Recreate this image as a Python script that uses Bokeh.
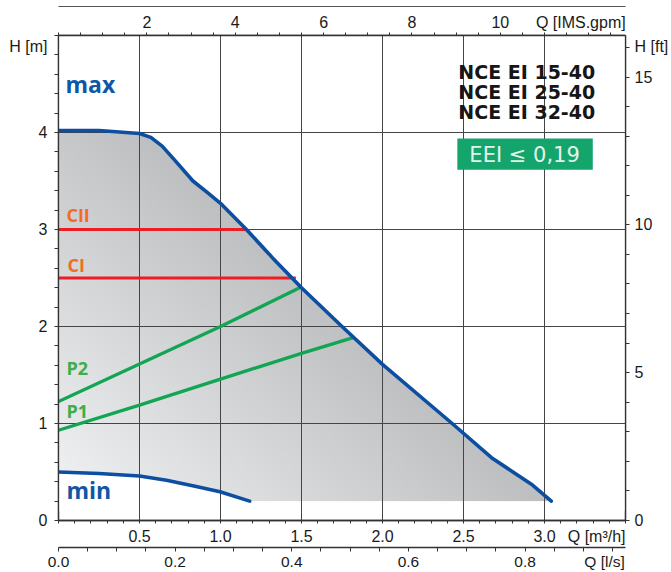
import numpy as np
from bokeh.plotting import figure
from bokeh.models import (Range1d, LinearAxis, FixedTicker, Grid, Label,
                          NumeralTickFormatter)
from bokeh.embed import file_html
from bokeh.resources import INLINE

# ---------------- data ----------------
# flow Q in m3/h, head H in m
q_max = [0.0, 0.25, 0.50, 0.57, 0.64, 0.72, 0.83, 0.92, 1.0, 1.16,
         1.32, 1.50, 1.75, 2.0, 2.43, 2.673, 2.796, 2.919, 3.042]
h_max = [4.02, 4.02, 3.99, 3.95, 3.86, 3.71, 3.50, 3.38, 3.27, 3.0,
         2.71, 2.40, 2.0, 1.61, 1.0, 0.648, 0.511, 0.374, 0.2]

q_min = [0.0, 0.25, 0.5, 0.667, 0.85, 0.997, 1.18]
h_min = [0.50, 0.485, 0.458, 0.414, 0.35, 0.296, 0.20]

q_p2 = [0.0, 0.5, 1.0, 1.495]
h_p2 = [1.227, 1.613, 2.0, 2.405]

q_p1 = [0.0, 0.5, 1.0, 1.5, 1.824]
h_p1 = [0.93, 1.19, 1.458, 1.723, 1.888]

q_c2 = [0.0, 1.16]
h_c2 = [3.0, 3.0]
q_c1 = [0.0, 1.465]
h_c1 = [2.5, 2.5]

# axis ticks
h_ticks = [0, 1, 2, 3, 4]
h_minor = [round(0.2 * i, 2) for i in range(26)]
ft_ticks = [0, 5, 10, 15]
ft_minor = list(range(0, 17))
q_ticks = [0.5, 1.0, 1.5, 2.0, 2.5, 3.0]
q_minor = [round(0.1 * i, 2) for i in range(36)]
gpm_ticks = [2, 4, 6, 8, 10]
gpm_minor = [0.5 * i for i in range(26)]
ls_ticks = [0.0, 0.2, 0.4, 0.6, 0.8]
ls_minor = [round(0.05 * i, 3) for i in range(20)]
grid_h = [1, 2, 3, 4]

models = ["NCE EI 15-40", "NCE EI 25-40", "NCE EI 32-40"]
eei_text = "EEI \u2264 0,19"

# axis titles, placed at the end of each scale
title_h_m, title_h_ft = "H [m]", "H [ft]"
title_gpm, title_m3h, title_ls = "Q [IMS.gpm]", "Q [m\u00b3/h]", "Q [l/s]"

Q_MAX, H_MAX = 3.5, 5.0
M3H_TO_GPM = 3.6662
M_TO_FT = 3.28084
M3H_TO_LS = 1 / 3.6

# positions of the axis titles (in each axis' own units)
POS_H_TITLE = 4.886
POS_FT_TITLE = round(POS_H_TITLE * M_TO_FT, 3)
POS_GPM_TITLE = 11.82
POS_M3H_TITLE = 3.322
POS_LS_TITLE = 0.9364

# ---------------- figure ----------------
p = figure(width=671, height=572, x_range=Range1d(0, Q_MAX), y_range=Range1d(0, H_MAX),
           x_axis_location=None, y_axis_location=None, toolbar_location=None,
           output_backend="svg", min_border_left=58, min_border_right=43,
           min_border_top=35, min_border_bottom=52,
           background_fill_color="white", border_fill_color="white")
p.outline_line_color = "#333333"
p.outline_line_width = 1.3
p.center = []

p.extra_x_ranges = {"gpm": Range1d(0, Q_MAX * M3H_TO_GPM),
                    "ls": Range1d(0, Q_MAX * M3H_TO_LS)}
p.extra_y_ranges = {"ft": Range1d(0, H_MAX * M_TO_FT)}

FONT = "Liberation Sans"
TXT = "#1a1a1a"


def style(ax, tick_out, standoff, size="16px"):
    ax.axis_line_color = "#333333"
    ax.axis_line_width = 1.3
    ax.major_tick_line_color = None
    ax.minor_tick_line_color = "#333333"
    ax.major_tick_in = 0
    ax.minor_tick_in = 0
    ax.major_tick_out = 0
    ax.minor_tick_out = tick_out
    ax.major_label_standoff = standoff
    ax.major_label_text_font = FONT
    ax.major_label_text_font_size = size
    ax.major_label_text_color = TXT


# left axis (m)
ax_l = LinearAxis(ticker=FixedTicker(ticks=h_ticks + [POS_H_TITLE], minor_ticks=h_minor),
                  major_label_overrides={POS_H_TITLE: title_h_m})
style(ax_l, 4, 7)
p.add_layout(ax_l, "left")

# right axis (ft)
ax_r = LinearAxis(y_range_name="ft",
                  ticker=FixedTicker(ticks=ft_ticks + [POS_FT_TITLE], minor_ticks=ft_minor),
                  major_label_overrides={POS_FT_TITLE: title_h_ft})
style(ax_r, 4, 5)
p.add_layout(ax_r, "right")

# top axis (IMS gpm)
ax_t = LinearAxis(x_range_name="gpm",
                  ticker=FixedTicker(ticks=gpm_ticks + [POS_GPM_TITLE], minor_ticks=gpm_minor),
                  major_label_overrides={POS_GPM_TITLE: title_gpm})
style(ax_t, 3, 2)
ax_t.axis_label = " "
ax_t.axis_label_text_font_size = "1px"
ax_t.axis_label_standoff = 0
p.add_layout(ax_t, "above")

ax_t2 = LinearAxis(x_range_name="gpm", ticker=FixedTicker(ticks=[]))
style(ax_t2, 0, 0)
ax_t2.axis_line_color = "#555555"
ax_t2.axis_line_width = 1
ax_t2.major_label_text_font_size = "0px"
p.add_layout(ax_t2, "above")

# bottom axis (m3/h)
ax_b = LinearAxis(ticker=FixedTicker(ticks=q_ticks + [POS_M3H_TITLE], minor_ticks=q_minor),
                  formatter=NumeralTickFormatter(format="0.0"),
                  major_label_overrides={POS_M3H_TITLE: title_m3h})
style(ax_b, 3, 4)
p.add_layout(ax_b, "below")

# bottom axis (l/s)
ax_b2 = LinearAxis(x_range_name="ls",
                   ticker=FixedTicker(ticks=ls_ticks + [POS_LS_TITLE], minor_ticks=ls_minor),
                   formatter=NumeralTickFormatter(format="0.0"),
                   major_label_overrides={POS_LS_TITLE: title_ls})
style(ax_b2, 4, 1, "15.5px")
p.add_layout(ax_b2, "below")

# grids
p.add_layout(Grid(dimension=0, ticker=FixedTicker(ticks=q_ticks),
                  grid_line_color="#454545", grid_line_width=1))
p.add_layout(Grid(dimension=1, ticker=FixedTicker(ticks=grid_h),
                  grid_line_color="#454545", grid_line_width=1))

# ---------------- gradient field between min and max curves ----------------
x0, x1 = 0.0, max(q_max) + 0.02
y0, y1 = min(h_max), max(h_max) + 0.04
nx, ny = 220, 260
gx = np.linspace(x0, x1, nx)
gy = np.linspace(y0, y1, ny)
GX, GY = np.meshgrid(gx, gy)
px = GX * 162.86
py = GY * 96.9
L = 238 - 0.105 * px - 0.115 * (py - 49.5)
L = np.clip(L, 182, 244)
img = np.empty((ny, nx), dtype=np.uint32)
view = img.view(dtype=np.uint8).reshape((ny, nx, 4))
view[:, :, 0] = L.astype(np.uint8)
view[:, :, 1] = np.clip(L + 1, 0, 255).astype(np.uint8)
view[:, :, 2] = np.clip(L + 3, 0, 255).astype(np.uint8)
view[:, :, 3] = 255
p.image_rgba(image=[img], x=x0, y=y0, dw=x1 - x0, dh=y1 - y0, level="image")

# white masks outside the operating field
mask_top_x = q_max + [Q_MAX, Q_MAX, -0.1, -0.1]
mask_top_y = h_max + [0.1, H_MAX, H_MAX, h_max[0]]
p.patch(mask_top_x, mask_top_y, fill_color="white", line_color="white", line_width=1, level="image")
mask_bot_x = q_min + [q_min[-1] + 0.1, -0.1, -0.1]
mask_bot_y = h_min + [0.1, 0.1, h_min[0]]
p.patch(mask_bot_x, mask_bot_y, fill_color="white", line_color="white", line_width=1, level="image")

# ---------------- curves ----------------
BLUE = "#0b4ea2"
RED = "#ee1d25"
GREEN = "#12a553"
p.line(q_c2, h_c2, line_color=RED, line_width=3)
p.line(q_c1, h_c1, line_color=RED, line_width=3)
p.line(q_p2, h_p2, line_color=GREEN, line_width=3.3)
p.line(q_p1, h_p1, line_color=GREEN, line_width=3.3)
p.line(q_max, h_max, line_color=BLUE, line_width=3.6, line_join="round", line_cap="round")
p.line(q_min, h_min, line_color=BLUE, line_width=3.6, line_join="round", line_cap="round")


# ---------------- in-plot labels ----------------
def lab(text, x, y, color, size, font="Open Sans", style_="bold", align="left"):
    p.add_layout(Label(x=x, y=y, text=text, text_color=color, text_font=font,
                       text_font_size=size, text_font_style=style_,
                       text_align=align, text_baseline="middle"))


lab("max", 0.043, 4.505, "#0f57a6", "23px")
lab("min", 0.049, 0.315, "#0f57a6", "23px")
lab("CII", 0.049, 3.153, "#ef6d24", "18px")
lab("CI", 0.055, 2.637, "#ef6d24", "18px")
lab("P2", 0.049, 1.574, "#3cae4a", "18px")
lab("P1", 0.049, 1.124, "#3cae4a", "18px")

for i, m in enumerate(models):
    lab(m, 2.468, [4.624, 4.415, 4.208][i], "#161616", "19px", font="DejaVu Sans")

p.quad(left=[2.462], right=[3.298], bottom=[3.617], top=[3.937],
       fill_color="#14a56c", line_color=None)
lab(eei_text, 2.877, 3.772, "#e4f2ea", "21px", font="DejaVu Sans", style_="normal", align="center")

open("out.html", "w").write(file_html(p, INLINE))
